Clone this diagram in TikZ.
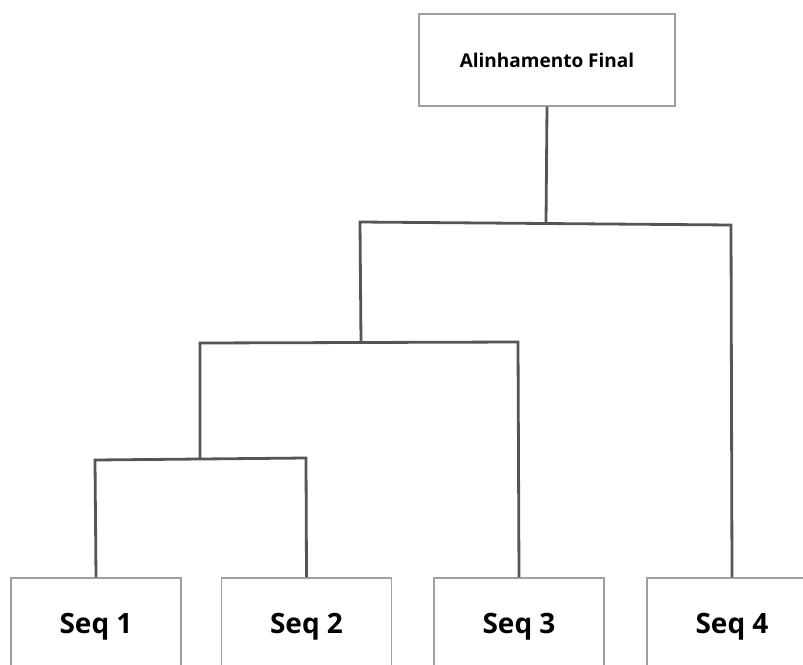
\documentclass[tikz,border=0pt]{standalone}
\usepackage{fontspec}
\setmainfont{Open Sans}
\definecolor{linkgray}{HTML}{555555}
\definecolor{boxgray}{HTML}{A0A0A0}
\begin{document}
\begin{tikzpicture}[x=1pt,y=-1pt,
  leafbox/.style={draw=boxgray,line width=1.3pt,fill=white,minimum width=170pt,minimum height=98pt,inner sep=0pt,font=\fontsize{28}{32}\selectfont\bfseries},
  rootbox/.style={draw=boxgray,line width=1.3pt,fill=white,minimum width=256pt,minimum height=92pt,inner sep=0pt,font=\fontsize{19}{22}\selectfont\bfseries},
  link/.style={draw=linkgray,line width=2.8pt,line join=miter}]
\useasboundingbox (0,0) rectangle (803,664);

% root and leaves
\node[rootbox] (fin) at (547,60) {Alinhamento Final};
\node[leafbox] (s1) at (96,627) {Seq 1};
\node[leafbox] (s2) at (306.5,627) {Seq 2};
\node[leafbox] (s3) at (519,627) {Seq 3};
\node[leafbox] (s4) at (732,627) {Seq 4};

% joints of the guide tree
\coordinate (a1) at (95,460);
\coordinate (a2) at (306,458);
\coordinate (a0) at (200,459);
\coordinate (b1) at (200,343);
\coordinate (b2) at (518,342);
\coordinate (b0) at (361,342.5);
\coordinate (c1) at (360,222);
\coordinate (c2) at (731,225);
\coordinate (c0) at (546,223.5);

% branches
\draw[link] (s1.north) -- (a1) -- (a2) -- (s2.north);
\draw[link] (a0) -- (b1) -- (b2) -- (s3.north);
\draw[link] (b0) -- (c1) -- (c2) -- (s4.north);
\draw[link] (fin.south) -- (c0);
\end{tikzpicture}
\end{document}
